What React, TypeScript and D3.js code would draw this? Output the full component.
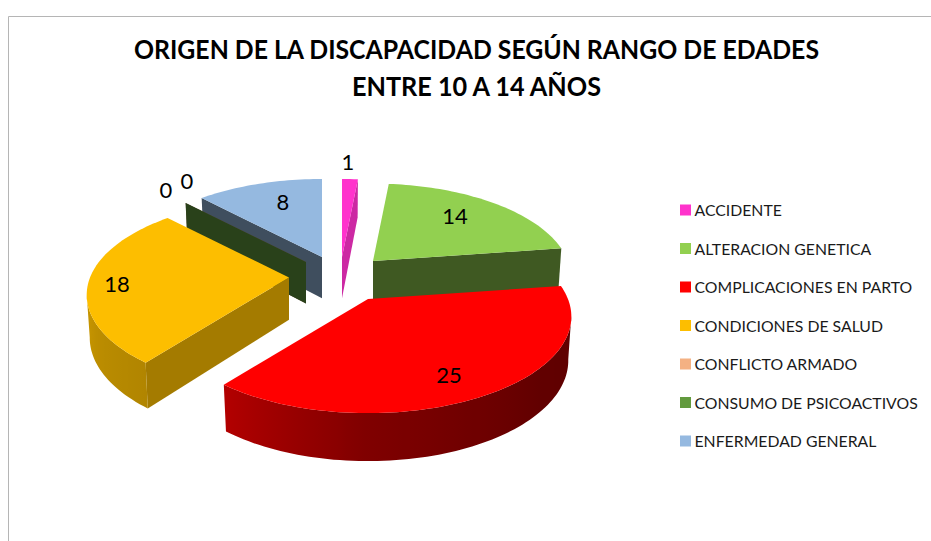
import React from "react";
import * as d3 from "d3";

const categories = ["ACCIDENTE","ALTERACION GENETICA","COMPLICACIONES EN PARTO","CONDICIONES DE SALUD","CONFLICTO ARMADO","CONSUMO DE PSICOACTIVOS","ENFERMEDAD GENERAL"];
const values = [1,14,25,18,0,0,8];
const colors = ["#ff33cc","#92d050","#ff0000","#fdbe00","#f4b183","#629a3e","#95b9e0"];
const titleLines = ["ORIGEN DE LA DISCAPACIDAD SEGÚN RANGO DE EDADES","ENTRE 10 A 14 AÑOS"];

// layout: explosion of every slice from the pie centre, label offset from its apex
const center = {x:330,y:270};
const explode = [[12,-13],[43,-9],[38,29],[-41,7.5],[-24,-8],[-24,-8],[-8,-13]];
const radiusScale = [1,.99,1.015,1.01,1,1,1];
const labelShift = [[6,-96],[82,-46],[81,75.5],[-172,6],[-140,-73],[-119,-82],[-39,-56]];
const titleLayout = [{y:48,len:685},{y:85,len:249}];
const drawOrder = [6,4,5,3,0,1,2];
const FONT = "Lato, Carlito, sans-serif";

const R = 197, Ry = 92, K = 0.179, BOTTOM = 0.985;
const wallDepth = d3.scaleLinear().domain([180,413]).range([38,48]);
const edgeShade = d3.scaleLinear().domain([5.45,81.8,218,316]).range([.8,.43,.65,.42]).clamp(true);
const rimShade = d3.scaleLinear().domain([90,130,180,218,240,280]).range([.37,.38,.5,.7,.74,.88]).clamp(true);
const shade = (c:string,f:number)=>{const r=d3.rgb(c);return d3.rgb(r.r*f,r.g*f,r.b*f).formatRgb();};
const line = d3.line();
const deg = (a:number)=>a*180/Math.PI;

type P=[number,number];
function top(i:number,a:number,r=1):P{
  const ax=center.x+explode[i][0], ay=center.y+explode[i][1];
  const q=r*radiusScale[i];
  const u=q*Math.sin(a), v=q*Math.cos(a), s=1/(1+K*v);
  return [ax+R*u*s, ay-Ry*v*s];
}
function bottom(i:number,p:P):P{
  const ax=center.x+explode[i][0];
  return [ax+(p[0]-ax)*BOTTOM, p[1]+wallDepth(p[1])];
}

const arcs = d3.pie<number>().value(d=>d).sort(null).startAngle(0).endAngle(2*Math.PI)(values);

function Slice({i}:{i:number}){
  const a=arcs[i], c=colors[i];
  const n=Math.max(2,Math.ceil((a.endAngle-a.startAngle)/(Math.PI/120)));
  const angles=d3.range(n+1).map(k=>a.startAngle+(a.endAngle-a.startAngle)*k/n);
  const rim=angles.map(t=>top(i,t));
  const apex=top(i,0,0);
  const walls:React.ReactNode[]=[];
  const quad=(p:P,q:P,fill:string,key:string)=>walls.push(<path key={key} d={line([p,q,bottom(i,q),bottom(i,p)])+"Z"} fill={fill}/>);
  const first=rim[0], last=rim[rim.length-1];
  if(first[0]<apex[0]-.5) quad(apex,first,shade(c,edgeShade(deg(a.startAngle))),"s");
  if(last[0]>apex[0]+.5) quad(last,apex,shade(c,edgeShade(deg(a.endAngle))),"e");
  // the outer wall is drawn where the rim runs leftwards on screen
  const idx=d3.range(n+1).filter(k=>(k<n&&rim[k+1][0]<rim[k][0])||(k>0&&rim[k][0]<rim[k-1][0]));
  let defs=null;
  if(idx.length>1){
    const pts=idx.map(k=>rim[k]);
    const xs=pts.map(p=>p[0]);
    const x0=d3.min(xs)!, x1=d3.max(xs)!;
    const id="rim"+i;
    defs=<linearGradient id={id} gradientUnits="userSpaceOnUse" x1={x0} x2={x1} y1={0} y2={0}>
      {[...idx].reverse().map(k=><stop key={k} offset={(rim[k][0]-x0)/(x1-x0)} stopColor={shade(c,rimShade(deg(angles[k])))}/>)}
    </linearGradient>;
    walls.push(<path key="rim" d={line([...pts,...pts.map(p=>bottom(i,p)).reverse()])+"Z"} fill={`url(#${id})`}/>);
  }
  return <g>{defs}{walls}{a.endAngle>a.startAngle && <path d={line([apex,...rim])+"Z"} fill={c}/>}</g>;
}

const legendY = d3.scalePoint<string>().domain(categories).range([210,441]);

export default function App(){
  return (
    <svg width={931} height={541} style={{position:"absolute",left:0,top:0,background:"#fff"}} fontFamily={FONT}>
      <path d="M8.5,541V16.5H931" fill="none" stroke="#b5b5b5" strokeWidth={1}/>
      {titleLines.map((t,k)=>(
        <text key={t} x={476.5} y={titleLayout[k].y} textAnchor="middle" dominantBaseline="central" fontSize={27} fontWeight={700} fill="#000" textLength={titleLayout[k].len} lengthAdjust="spacingAndGlyphs">{t}</text>
      ))}
      {drawOrder.map(i=><Slice key={i} i={i}/>)}
      {values.map((v,i)=>{
        const p=top(i,0,0);
        return <text key={i} x={p[0]+labelShift[i][0]} y={p[1]+labelShift[i][1]} textAnchor="middle" dominantBaseline="central" fontSize={22} fill="#000">{v}</text>;
      })}
      {categories.map((c,i)=>{
        const y=legendY(c)!;
        return <g key={c}>
          <rect x={680} y={y-5.5} width={11} height={11} fill={colors[i]}/>
          <text x={694.5} y={y-.5} dominantBaseline="central" fontSize={15.8} fill="#1a1a1a">{c}</text>
        </g>;
      })}
    </svg>
  );
}
